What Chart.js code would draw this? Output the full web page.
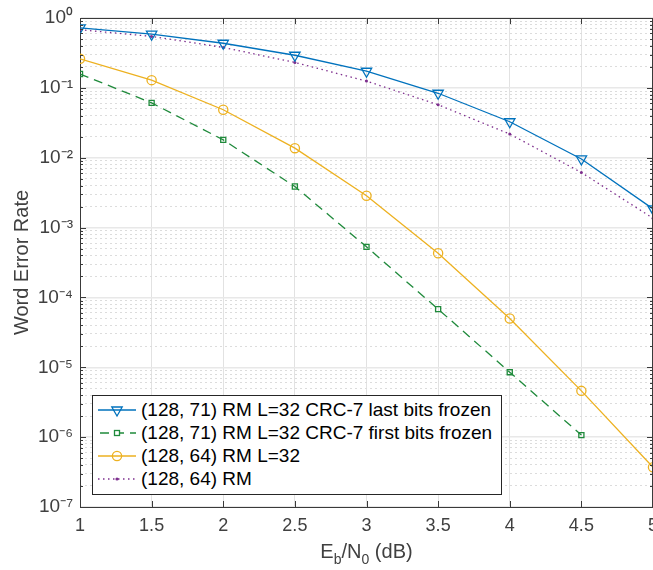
<!DOCTYPE html>
<html><head><meta charset="utf-8">
<script src="https://cdn.jsdelivr.net/npm/chart.js@4.4.1/dist/chart.umd.min.js"></script>
<style>
html,body{margin:0;padding:0;background:#fff;}
#wrap{position:relative;width:653px;height:570px;overflow:hidden;}
#legend{position:absolute;left:92px;top:395px;width:408px;height:98px;border:1px solid #262626;background:#fff;font-family:"Liberation Sans",Arial,Helvetica,sans-serif;font-size:19px;color:#000;}
.row{position:absolute;left:0;height:22px;display:flex;align-items:center;white-space:nowrap;}
.row svg{margin-left:4px;margin-right:4px;display:block;}
</style></head><body>
<div id="wrap"><canvas id="c" width="653" height="570"></canvas><div id="legend"></div></div>
<script>
// ---- data ----
const ebn0 = [1, 1.5, 2, 2.5, 3, 3.5, 4, 4.5, 5];
const werCrcLastFrozen  = [0.72, 0.586, 0.435, 0.293, 0.173, 0.0837, 0.0327, 0.0096, 0.00185];
const werCrcFirstFrozen = [0.158, 0.061, 0.018, 0.00387, 5.3e-4, 6.8e-5, 8.5e-6, 1.07e-6];
const werRmList         = [0.261, 0.129, 0.0486, 0.0137, 0.00285, 4.3e-4, 5.0e-5, 4.6e-6, 3.7e-7];
const werRm             = [0.68, 0.545, 0.379, 0.231, 0.125, 0.0573, 0.0218, 0.00614, 0.00136];
const seriesLabels = [
  '(128, 71) RM L=32 CRC-7 last bits frozen',
  '(128, 71) RM L=32 CRC-7 first bits frozen',
  '(128, 64) RM L=32',
  '(128, 64) RM'
];
const xTickValues = [1, 1.5, 2, 2.5, 3, 3.5, 4, 4.5, 5];
const xTickLabels = ['1', '1.5', '2', '2.5', '3', '3.5', '4', '4.5', '5'];
const yTickValues = [1e-7, 1e-6, 1e-5, 1e-4, 1e-3, 1e-2, 1e-1, 1];
const yTickLabels = ['10⁻⁷', '10⁻⁶', '10⁻⁵', '10⁻⁴', '10⁻³', '10⁻²', '10⁻¹', '10⁰'];
const yAxisTitle = 'Word Error Rate';

// ---- styles ----
const FONT = '"Liberation Sans", Arial, Helvetica, sans-serif';
const colors = ['#0072BD', '#1f8a3b', '#EDB120', '#7E2F8E'];

// minor log-grid positions
const yMinor = [];
for (let e = -7; e < 0; e++) { for (let m = 2; m <= 9; m++) yMinor.push(m * Math.pow(10, e)); }

const pts = (arr) => arr.map((v, i) => ({ x: ebn0[i], y: v }));

function fixFit(w, h) {
  return (s) => {
    if (w !== null) s.width = w;
    if (h !== null) s.height = h;
    s.paddingLeft = 0; s.paddingRight = 0; s.paddingTop = 0; s.paddingBottom = 0;
  };
}

const axesPlugin = {
  id: 'axesBox',
  afterDraw(chart) {
    const { ctx, chartArea: a, scales } = chart;
    ctx.save();
    ctx.strokeStyle = '#3a3a3a';
    ctx.lineWidth = 1;
    ctx.beginPath();
    ctx.moveTo(a.left, a.top + 0.5); ctx.lineTo(a.right, a.top + 0.5);
    ctx.moveTo(a.right - 0.5, a.top); ctx.lineTo(a.right - 0.5, a.bottom);
    for (const v of xTickValues) {
      const px = Math.round(scales.x.getPixelForValue(v)) + 0.5;
      ctx.moveTo(px, a.bottom); ctx.lineTo(px, a.bottom - 6);
      ctx.moveTo(px, a.top); ctx.lineTo(px, a.top + 6);
    }
    for (const v of yTickValues) {
      const py = Math.round(scales.y.getPixelForValue(v)) + 0.5;
      ctx.moveTo(a.left, py); ctx.lineTo(a.left + 6, py);
      ctx.moveTo(a.right, py); ctx.lineTo(a.right - 6, py);
    }
    for (const v of yMinor) {
      const py = Math.round(scales.y.getPixelForValue(v)) + 0.5;
      ctx.moveTo(a.left, py); ctx.lineTo(a.left + 3, py);
      ctx.moveTo(a.right, py); ctx.lineTo(a.right - 3, py);
    }
    ctx.stroke();

    // x-axis title with subscripts: E_b/N_0 (dB)
    const parts = [['E', false], ['b', true], ['/N', false], ['0', true], [' (dB)', false]];
    const big = '20px ' + FONT, small = '14px ' + FONT;
    let total = 0;
    for (const [t, sub] of parts) { ctx.font = sub ? small : big; total += ctx.measureText(t).width; }
    let x = (a.left + a.right) / 2 - total / 2;
    const base = 558;
    ctx.fillStyle = '#404040';
    ctx.textBaseline = 'alphabetic';
    ctx.textAlign = 'left';
    for (const [t, sub] of parts) {
      ctx.font = sub ? small : big;
      ctx.fillText(t, x, sub ? base + 6 : base);
      x += ctx.measureText(t).width;
    }
    ctx.restore();
  }
};

const chart = new Chart(document.getElementById('c'), {
  type: 'line',
  data: {
    datasets: [
      { label: seriesLabels[0], data: pts(werCrcLastFrozen), borderColor: colors[0], borderWidth: 1.3,
        pointStyle: 'triangle', rotation: 180, pointRadius: 6, pointBorderWidth: 1.3,
        pointBorderColor: colors[0], pointBackgroundColor: 'rgba(0,0,0,0)', fill: false },
      { label: seriesLabels[1], data: pts(werCrcFirstFrozen), borderColor: colors[1], borderWidth: 1.3,
        borderDash: [9, 6], pointStyle: 'rect', pointRadius: 3.6, pointBorderWidth: 1.3,
        pointBorderColor: colors[1], pointBackgroundColor: 'rgba(0,0,0,0)', fill: false },
      { label: seriesLabels[2], data: pts(werRmList), borderColor: colors[2], borderWidth: 1.3,
        pointStyle: 'circle', pointRadius: 4.6, pointBorderWidth: 1.3,
        pointBorderColor: colors[2], pointBackgroundColor: 'rgba(0,0,0,0)', fill: false },
      { label: seriesLabels[3], data: pts(werRm), borderColor: colors[3], borderWidth: 1.3,
        borderDash: [1.5, 3.5], pointStyle: 'circle', pointRadius: 1.5, pointBorderWidth: 0,
        pointBackgroundColor: colors[3], fill: false }
    ]
  },
  options: {
    responsive: false,
    animation: false,
    devicePixelRatio: 1,
    layout: { autoPadding: false, padding: { top: 18, right: 0, left: 0, bottom: 0 } },
    plugins: { legend: { display: false }, tooltip: { enabled: false } },
    elements: { line: { tension: 0 } },
    scales: {
      x: {
        type: 'linear', position: 'bottom', min: 1, max: 5,
        afterBuildTicks: (s) => { s.ticks = xTickValues.map(v => ({ value: v })); },
        afterFit: fixFit(null, 63),
        ticks: {
          autoSkip: false, maxRotation: 0, padding: 8, color: '#404040',
          font: { family: FONT, size: 18 },
          callback: (v) => { const i = xTickValues.indexOf(v); return i >= 0 ? xTickLabels[i] : ''; }
        },
        grid: { color: '#e2e2e2', lineWidth: 1, drawTicks: false },
        border: { display: true, color: '#3a3a3a', width: 1 }
      },
      y: {
        type: 'logarithmic', position: 'left', min: 1e-7, max: 1,
        afterBuildTicks: (s) => { s.ticks = yTickValues.map(v => ({ value: v })); },
        afterFit: fixFit(80, null),
        ticks: {
          autoSkip: false, padding: 7, color: '#404040',
          font: { family: FONT, size: 19 },
          callback: (v) => {
            const i = yTickValues.findIndex(t => Math.abs(Math.log10(t) - Math.log10(v)) < 1e-6);
            return i >= 0 ? yTickLabels[i] : '';
          }
        },
        title: { display: true, text: yAxisTitle, color: '#404040', font: { family: FONT, size: 20 }, padding: { top: 10, bottom: 0 } },
        grid: { color: '#e8e8e8', lineWidth: 1.5, drawTicks: false },
        border: { display: true, color: '#3a3a3a', width: 1 }
      },
      yMinor: {
        type: 'logarithmic', position: 'right', min: 1e-7, max: 1,
        afterBuildTicks: (s) => { s.ticks = yMinor.map(v => ({ value: v })); },
        afterFit: fixFit(0, null),
        ticks: { display: false },
        grid: { color: '#dcdcdc', lineWidth: 1, drawTicks: false },
        border: { display: false, dash: [2, 3] }
      }
    }
  },
  plugins: [axesPlugin]
});

// ---- legend (HTML) ----
const legendSymbols = [
  `<line x1="1" y1="10" x2="39" y2="10" stroke="${colors[0]}" stroke-width="1.3"/><polygon points="14.8,7 25.2,7 20,16" fill="none" stroke="${colors[0]}" stroke-width="1.3"/>`,
  `<line x1="1" y1="10" x2="39" y2="10" stroke="${colors[1]}" stroke-width="1.3" stroke-dasharray="9,6" stroke-dashoffset="-2"/><rect x="17.5" y="7.5" width="5" height="5" fill="#fff" stroke="${colors[1]}" stroke-width="1.3"/>`,
  `<line x1="1" y1="10" x2="39" y2="10" stroke="${colors[2]}" stroke-width="1.3"/><circle cx="20" cy="10" r="4.6" fill="none" stroke="${colors[2]}" stroke-width="1.3"/>`,
  `<line x1="1" y1="10" x2="39" y2="10" stroke="${colors[3]}" stroke-width="1.3" stroke-dasharray="1.5,3.5"/><circle cx="20" cy="10" r="1.6" fill="${colors[3]}"/>`
];
const lg = document.getElementById('legend');
const rowTops = [3, 26, 49, 72];
seriesLabels.forEach((lab, i) => {
  const r = document.createElement('div');
  r.className = 'row';
  r.style.top = rowTops[i] + 'px';
  r.innerHTML = `<svg width="40" height="20" viewBox="0 0 40 20">${legendSymbols[i]}</svg><span>${lab}</span>`;
  lg.appendChild(r);
});
</script>
</body></html>
